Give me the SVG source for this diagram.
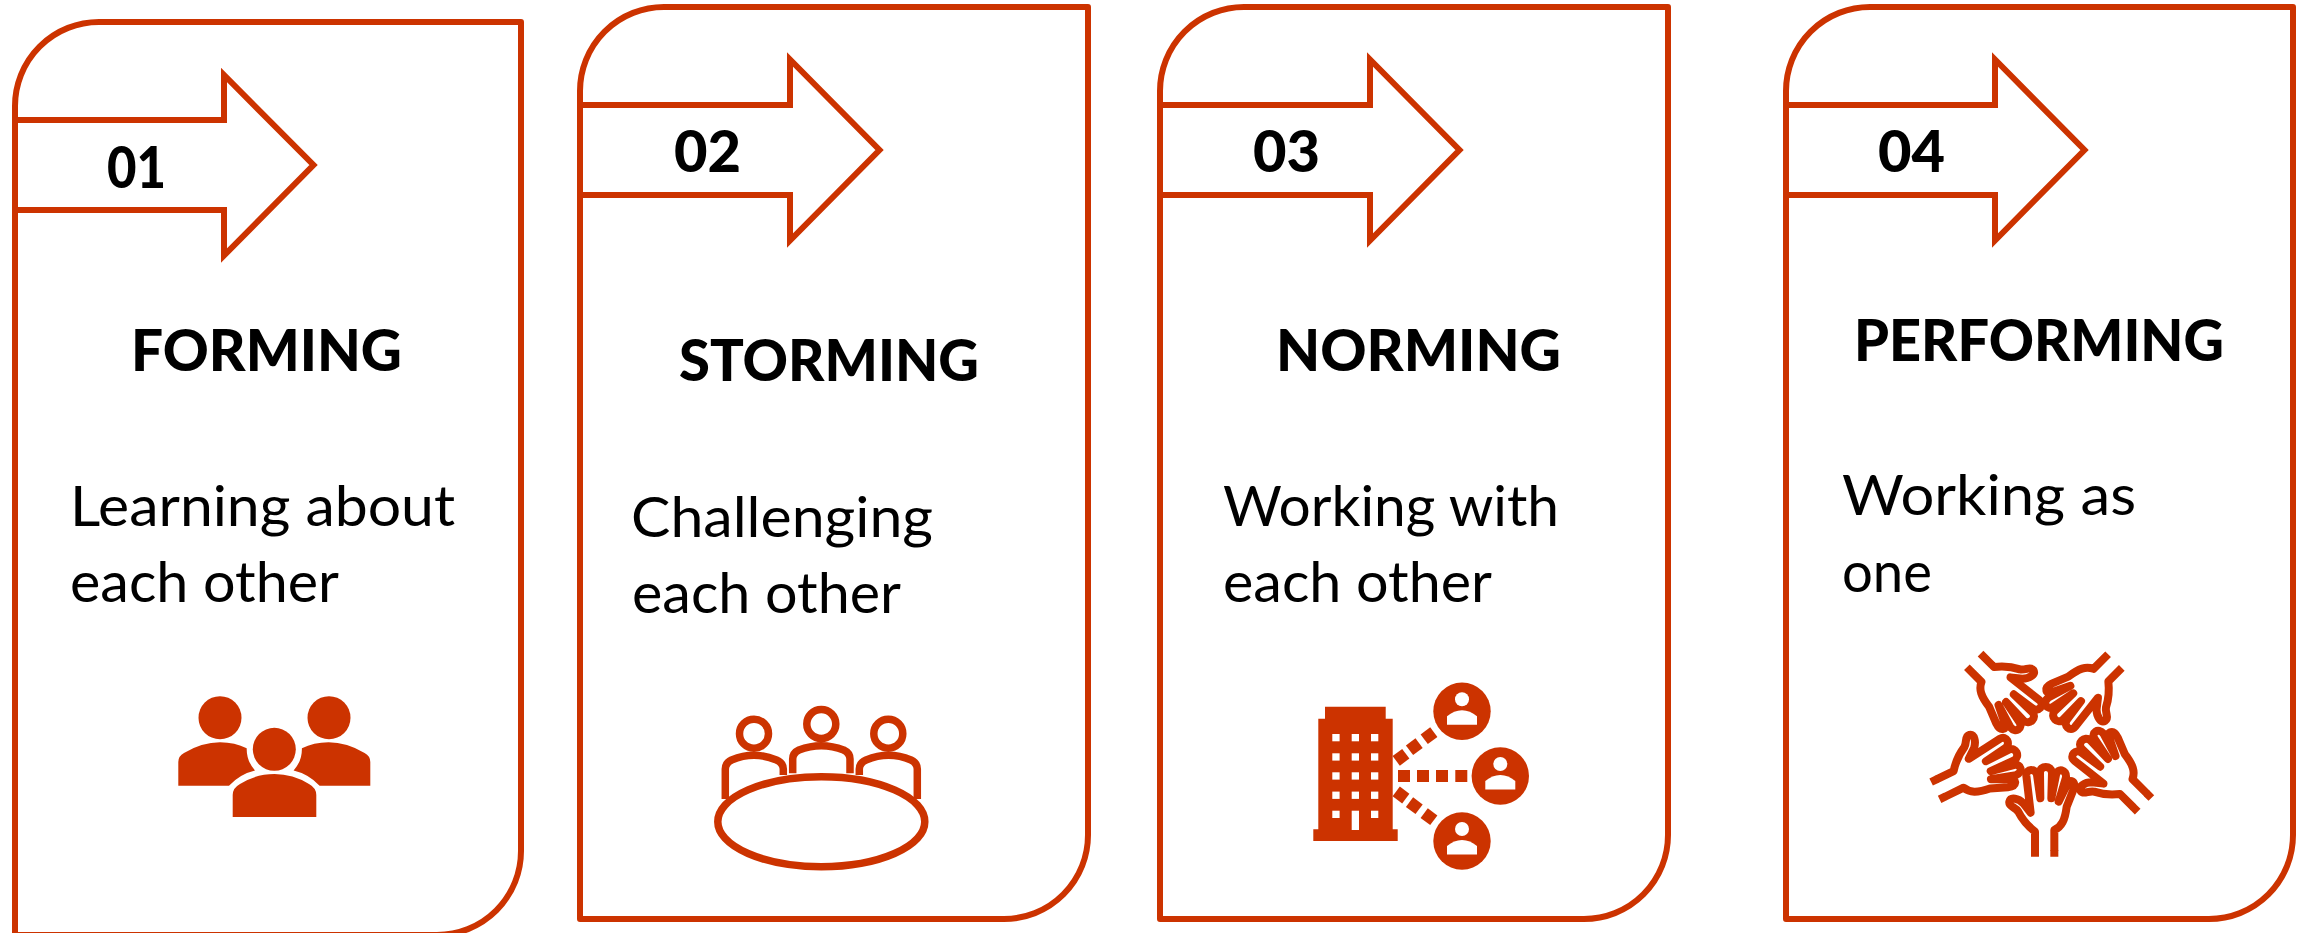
<svg xmlns="http://www.w3.org/2000/svg" xmlns:xlink="http://www.w3.org/1999/xlink" width="2303" height="933" viewBox="0 0 2303 933">
<style>
.card{fill:none;stroke:#cc3300;stroke-width:6;stroke-linejoin:round}
.arrow{fill:none;stroke:#cc3300;stroke-width:6;stroke-linejoin:miter;stroke-miterlimit:8}
.f{fill:#cc3300}
.w{fill:#fff}
.ol{fill:none;stroke:#cc3300;stroke-width:7.500;stroke-linejoin:round}
.hand{fill:none;stroke:#cc3300;stroke-width:24;stroke-linejoin:round}
.num{font:900 57px Lato,"Liberation Sans",sans-serif;fill:#000}
.h{font:900 58px Lato,"Liberation Sans",sans-serif;fill:#000}
.b{font:400 56px Lato,"Liberation Sans",sans-serif;fill:#000}
</style>
<defs>
<g id="person">
<circle class="w" cx="0" cy="-12" r="7"/>
<path class="w" d="M-15 13.500V5Q-8 -1 0 -1Q8 -1 15 5V13.500Z"/>
</g>
<g id="hand">
<path class="hand" d="M375 662V605C350 585 335 565 325 545C315 530 295 530 298 515C302 500 325 505 340 520L362 548L349 437C347 415 378 415 381 435L391 505L390 428C390 405 424 405 426 428L424 505L438 435C443 412 470 418 468 442L446 515L472 462C478 445 500 452 490 480L470 530C465 570 455 590 433 600V662"/>
</g>
<path id="ext" class="hand" d="M375 660V680M433 660V680"/>
</defs>
<rect width="2303" height="933" fill="#fff"/>
<g id="card-forming">
<path class="card" d="M15 106A84 84 0 0 1 99 22H521V851A84 84 0 0 1 437 935H15Z"/>
<path class="arrow" d="M15 120H224V75L313.500 165L224 255.500V210H15"/>
<text class="num" x="107" y="188" textLength="59" lengthAdjust="spacingAndGlyphs">01</text>
<text class="h" x="131" y="371" textLength="271" lengthAdjust="spacingAndGlyphs">FORMING</text>
<text class="b" x="70" y="526" textLength="385" lengthAdjust="spacingAndGlyphs">Learning about</text>
<text class="b" x="70" y="602" textLength="269" lengthAdjust="spacingAndGlyphs">each other</text>
<g id="icon-people">
<circle class="f" cx="220" cy="717.700" r="21.500"/>
<circle class="f" cx="329" cy="717.700" r="21.500"/>
<circle class="f" cx="274.300" cy="749.300" r="21.500"/>
<path class="f" d="M178.300 785.700V762Q178.300 756 184 753Q202 742.300 220 742.300Q235 742.300 246.700 748.300Q246.500 761 255 770.500Q240 774 229 785.700Z"/>
<path class="f" d="M370.300 785.700V762Q370.300 756 364.600 753Q346.600 742.300 328.600 742.300Q313.600 742.300 301.900 748.300Q302.100 761 293.600 770.500Q308.600 774 319.600 785.700Z"/>
<path class="f" d="M232.700 817V795Q232.700 788 240 784Q256 774 274.500 774Q293 774 309 784Q316.300 788 316.300 795V817Z"/>
</g>
</g>
<g id="card-storming">
<path class="card" d="M580 91A84 84 0 0 1 664 7H1088V835A84 84 0 0 1 1004 919H580Z"/>
<path class="arrow" d="M580 105H790V59.500L879.500 150L790 240.500V195H580"/>
<text class="num" x="674" y="172" textLength="67" lengthAdjust="spacingAndGlyphs">02</text>
<text class="h" x="679" y="381" textLength="300" lengthAdjust="spacingAndGlyphs">STORMING</text>
<text class="b" x="631" y="537" textLength="302" lengthAdjust="spacingAndGlyphs">Challenging</text>
<text class="b" x="632" y="613" textLength="269" lengthAdjust="spacingAndGlyphs">each other</text>
<g id="icon-meeting">
<ellipse class="ol" cx="821.300" cy="821.700" rx="103.500" ry="45"/>
<circle class="ol" cx="821.300" cy="724" r="14.500"/>
<circle class="ol" cx="754" cy="733.700" r="14.500"/>
<circle class="ol" cx="888.300" cy="733.700" r="14.500"/>
<path class="ol" d="M792.700 773.300V759Q792.700 753 799 750Q810 745.700 821.300 745.700Q832.600 745.700 843.600 750Q850 753 850 759V773.300"/>
<path class="ol" d="M725.300 799V769Q725.300 763 731.600 760Q743 755.300 754 755.300Q765 755.300 776.500 760Q783.300 763 783.300 769V775"/>
<path class="ol" d="M917.300 799V769Q917.300 763 911 760Q899.600 755.300 888.600 755.300Q877.600 755.300 866.100 760Q859.300 763 859.300 769V775"/>
</g>
</g>
<g id="card-norming">
<path class="card" d="M1160 91A84 84 0 0 1 1244 7H1668V835A84 84 0 0 1 1584 919H1160Z"/>
<path class="arrow" d="M1160 105H1370V59.500L1459.500 150L1370 240.500V195H1160"/>
<text class="num" x="1253" y="172" textLength="67" lengthAdjust="spacingAndGlyphs">03</text>
<text class="h" x="1276" y="371" textLength="285" lengthAdjust="spacingAndGlyphs">NORMING</text>
<text class="b" x="1223" y="526" textLength="336" lengthAdjust="spacingAndGlyphs">Working with</text>
<text class="b" x="1223" y="602" textLength="269" lengthAdjust="spacingAndGlyphs">each other</text>
<g id="icon-network">
<path class="f" d="M1325 706.700H1385.700V718.700H1392.700V829.300H1397.700V841H1313.300V829.300H1318.300V718.700H1325Z"/>
<g class="w">
<rect x="1332.300" y="734" width="7.300" height="7.300"/><rect x="1351.700" y="734" width="7.300" height="7.300"/><rect x="1371" y="734" width="7.300" height="7.300"/>
<rect x="1332.300" y="753.300" width="7.300" height="7.300"/><rect x="1351.700" y="753.300" width="7.300" height="7.300"/><rect x="1371" y="753.300" width="7.300" height="7.300"/>
<rect x="1332.300" y="772.300" width="7.300" height="7.300"/><rect x="1351.700" y="772.300" width="7.300" height="7.300"/><rect x="1371" y="772.300" width="7.300" height="7.300"/>
<rect x="1332.300" y="791.600" width="7.300" height="7.300"/><rect x="1351.700" y="791.600" width="7.300" height="7.300"/><rect x="1371" y="791.600" width="7.300" height="7.300"/>
<rect x="1332.300" y="810.700" width="7.300" height="7.300"/><rect x="1351.700" y="810.700" width="7.300" height="19.300"/><rect x="1371" y="810.700" width="7.300" height="7.300"/>
</g>
<g class="f">
<rect x="1398" y="770" width="12" height="12"/><rect x="1417" y="770" width="12" height="12"/><rect x="1436" y="770" width="12" height="12"/><rect x="1455.300" y="770" width="12" height="12"/>
<rect x="-6" y="-6" width="12" height="12" transform="translate(1401 757.300) rotate(-37)"/>
<rect x="-6" y="-6" width="12" height="12" transform="translate(1414.300 746.700) rotate(-37)"/>
<rect x="-6" y="-6" width="12" height="12" transform="translate(1429 735.700) rotate(-37)"/>
<rect x="-6" y="-6" width="12" height="12" transform="translate(1401 795) rotate(37)"/>
<rect x="-6" y="-6" width="12" height="12" transform="translate(1414.300 805.700) rotate(37)"/>
<rect x="-6" y="-6" width="12" height="12" transform="translate(1429 816.700) rotate(37)"/>
</g>
<circle class="f" cx="1462" cy="711.300" r="28.700"/>
<circle class="f" cx="1500.300" cy="776" r="28.700"/>
<circle class="f" cx="1462" cy="841" r="28.700"/>
<use href="#person" transform="translate(1462 711.300)"/>
<use href="#person" transform="translate(1500.300 776)"/>
<use href="#person" transform="translate(1462 841)"/>
</g>
</g>
<g id="card-performing">
<path class="card" d="M1786 91A84 84 0 0 1 1870 7H2293V835A84 84 0 0 1 2209 919H1786Z"/>
<path class="arrow" d="M1786 105H1995V59.500L2084.500 150L1995 240.500V195H1786"/>
<text class="num" x="1878" y="172" textLength="67" lengthAdjust="spacingAndGlyphs">04</text>
<text class="h" x="1854" y="361" textLength="370" lengthAdjust="spacingAndGlyphs">PERFORMING</text>
<text class="b" x="1842" y="515" textLength="294" lengthAdjust="spacingAndGlyphs">Working as</text>
<text class="b" x="1842" y="592" textLength="90" lengthAdjust="spacingAndGlyphs">one</text>
<g id="icon-hands" transform="translate(1910 630) scale(.33333)">
<use href="#hand"/>
<use href="#ext"/>
<use href="#hand" transform="translate(235 135) rotate(135) translate(-404 -600)"/>
<use href="#hand" transform="translate(571 137) rotate(225) translate(-404 -600)"/>
<use href="#hand" transform="translate(647 468) rotate(-45) translate(-404 -600)"/>
<use href="#ext" transform="translate(647 468) rotate(-45) translate(-404 -600)"/>
<use href="#hand" transform="translate(148 447) rotate(64) translate(-404 -600)"/>
<use href="#ext" transform="translate(148 447) rotate(64) translate(-404 -600)"/>
</g>
</g>
</svg>
